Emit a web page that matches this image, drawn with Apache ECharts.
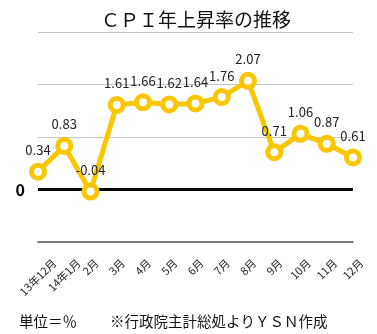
<!DOCTYPE html>
<html>
<head>
<meta charset="utf-8">
<script src="https://cdn.jsdelivr.net/npm/echarts@6/dist/echarts.min.js"></script>
<style>
  html, body { margin: 0; padding: 0; background: #fff; }
  #chart { width: 377px; height: 334px; }
</style>
</head>
<body>
<div id="chart"></div>
<script>
// Monthly CPI year-over-year change (%)
const months = ['13年12月', '14年1月', '2月', '3月', '4月', '5月', '6月', '7月', '8月', '9月', '10月', '11月', '12月'];
const cpiRate = [0.34, 0.83, -0.04, 1.61, 1.66, 1.62, 1.64, 1.76, 2.07, 0.71, 1.06, 0.87, 0.61];
const yTicks = [-1, 0, 1, 2, 3];

const FONT = '"Noto Sans CJK JP", "Noto Sans", sans-serif';
const GOLD = '#f9c600';
const LABEL_SIZE = 11;
const LABEL_FONT = LABEL_SIZE + 'px ' + FONT;

// Width of each month label, used to hang the rotated labels so that
// every label is centred on its tick and their tops line up.
const measure = document.createElement('canvas').getContext('2d');
measure.font = LABEL_FONT;
const labelWidths = months.map(function (m) { return measure.measureText(m).width; });
const labelTop = 15;   // gap from the axis line to the top of the labels

const chart = echarts.init(document.getElementById('chart'), null, { renderer: 'canvas' });
chart.setOption({
  animation: false,
  backgroundColor: '#fff',
  textStyle: { fontFamily: FONT },
  title: [
    {
      text: 'ＣＰＩ年上昇率の推移',
      left: 96, top: 5,
      textStyle: { fontSize: 19, fontWeight: 'normal', color: '#111', fontFamily: FONT }
    },
    {
      text: '単位＝％',
      left: 14, top: 309,
      textStyle: { fontSize: 14.5, fontWeight: 'normal', color: '#111', fontFamily: FONT }
    },
    {
      text: '※行政院主計総処よりＹＳＮ作成',
      left: 105, top: 309,
      textStyle: { fontSize: 14.5, fontWeight: 'normal', color: '#111', fontFamily: FONT }
    }
  ],
  grid: { left: 38, right: 24, top: 32, bottom: 92, containLabel: false, outerBoundsMode: 'none' },
  xAxis: {
    type: 'category',
    data: months,
    boundaryGap: false,
    axisLine: { onZero: false, lineStyle: { color: '#555', width: 1.5 } },
    axisTick: { show: false },
    splitLine: { show: false },
    axisLabel: { show: false }
  },
  yAxis: {
    type: 'value',
    min: yTicks[0],
    max: yTicks[yTicks.length - 1],
    interval: 1,
    axisLine: { show: false },
    axisTick: { show: false },
    splitLine: { show: true, lineStyle: { color: '#c4c4c4', width: 1 } },
    axisLabel: {
      margin: 13,
      fontSize: 16,
      fontWeight: 'bold',
      color: '#000',
      fontFamily: FONT,
      formatter: function (v) { return v === 0 ? '0' : ''; }
    }
  },
  series: [
    {
      type: 'line',
      data: cpiRate,
      symbol: 'circle',
      symbolSize: 13,
      showAllSymbol: true,
      lineStyle: { color: GOLD, width: 5 },
      itemStyle: { color: '#fff', borderColor: GOLD, borderWidth: 5 },
      label: {
        show: true,
        position: 'top',
        distance: 6,
        fontSize: 13,
        color: '#222',
        fontFamily: FONT,
        formatter: function (p) { return p.value.toFixed(2); }
      },
      markLine: {
        silent: true,
        symbol: ['none', 'none'],
        label: { show: false },
        lineStyle: { color: '#000', width: 3, type: 'solid' },
        data: [{ yAxis: 0 }],
        z: 1
      },
      z: 3
    },
    {
      // Month names under the axis, slanted at 45 degrees
      type: 'custom',
      silent: true,
      clip: false,
      data: months.map(function (m, i) { return [i, yTicks[0]]; }),
      renderItem: function (params, api) {
        const i = params.dataIndex;
        const pt = api.coord([api.value(0), api.value(1)]);
        const half = (labelWidths[i] + LABEL_SIZE) * 0.3536;
        return {
          type: 'text',
          x: pt[0],
          y: pt[1] + labelTop + half,
          rotation: Math.PI / 4,
          style: {
            text: months[i],
            font: LABEL_FONT,
            fill: '#222',
            align: 'center',
            verticalAlign: 'middle'
          }
        };
      }
    }
  ]
});
</script>
</body>
</html>
